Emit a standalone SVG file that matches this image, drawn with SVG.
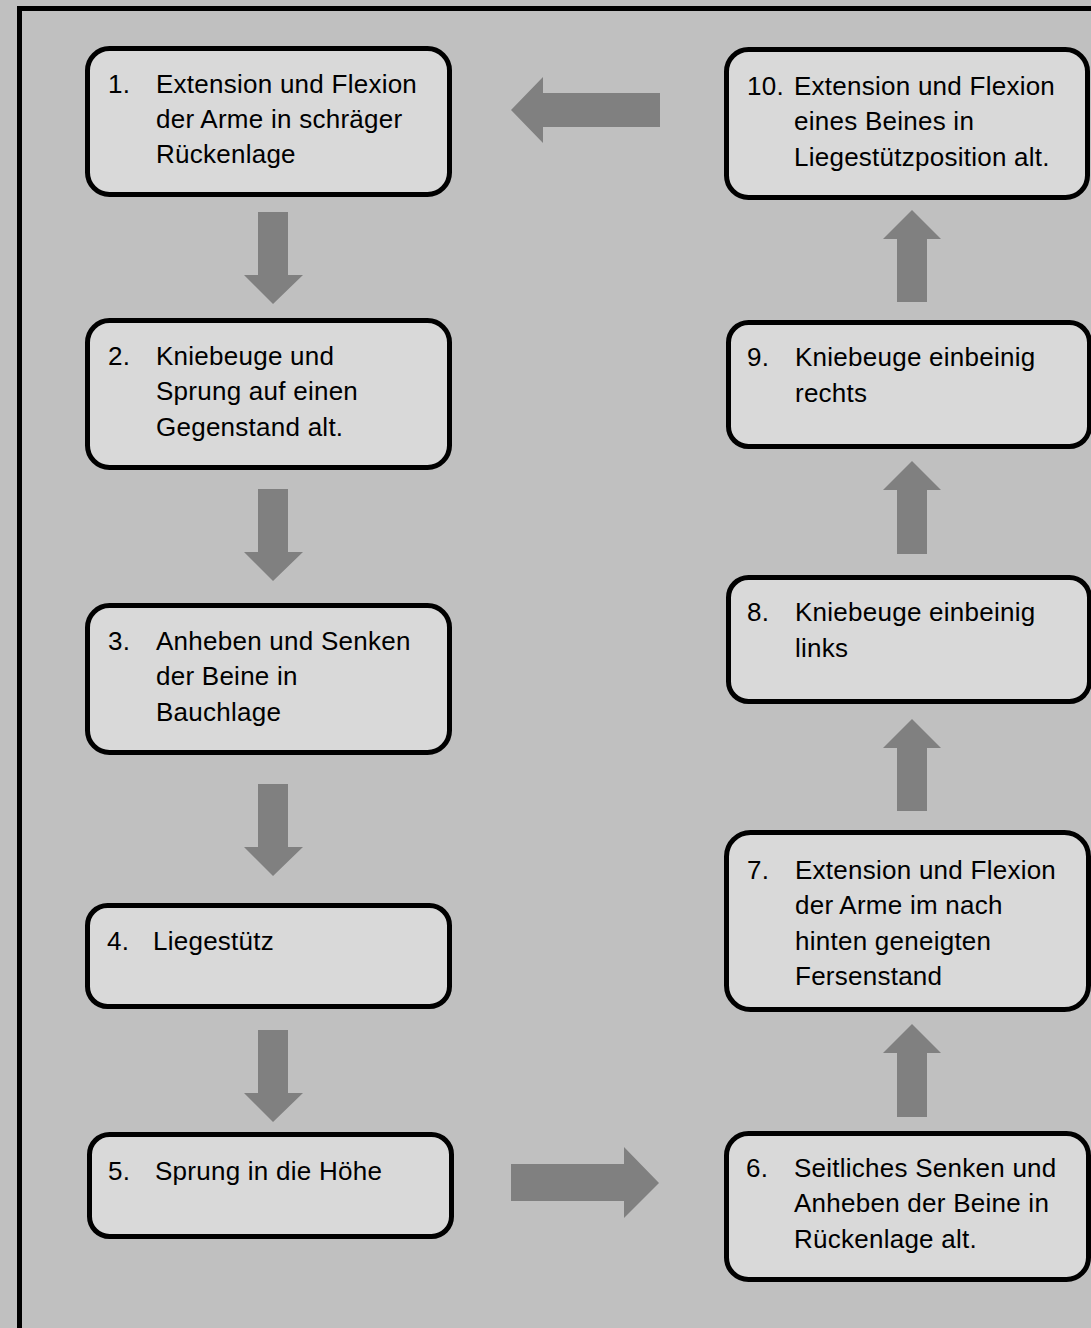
<svg xmlns="http://www.w3.org/2000/svg" width="1091" height="1328" viewBox="0 0 1091 1328">
<style>
.box{fill:#d9d9d9;stroke:#000;stroke-width:5}
.t{font-family:"Liberation Sans",Arial,sans-serif;font-size:26px;letter-spacing:0.25px;fill:#000}
.arr{fill:#808080}
</style>
<rect x="0" y="0" width="1091" height="1328" fill="#c0c0c0"/>
<rect x="19.5" y="8.5" width="1100" height="1340" fill="#c0c0c0" stroke="#000" stroke-width="5"/>
<g id="connectors">
<polygon class="arr" points="660,93 543,93 543,77 511,110 543,143 543,127 660,127"/>
<polygon class="arr" points="258,212 288,212 288,275 303,275 273,304 244,275 258,275"/>
<polygon class="arr" points="258,489 288,489 288,552 303,552 273,581 244,552 258,552"/>
<polygon class="arr" points="258,784 288,784 288,847 303,847 273,876 244,847 258,847"/>
<polygon class="arr" points="258,1030 288,1030 288,1093 303,1093 273,1122 244,1093 258,1093"/>
<polygon class="arr" points="511,1164 624,1164 624,1147 659,1183 624,1218 624,1201 511,1201"/>
<polygon class="arr" points="897,1117 927,1117 927,1053 941,1053 912,1024 883,1053 897,1053"/>
<polygon class="arr" points="897,811 927,811 927,748 941,748 912,719 883,748 897,748"/>
<polygon class="arr" points="897,554 927,554 927,490 941,490 912,461 883,490 897,490"/>
<polygon class="arr" points="897,302 927,302 927,239 941,239 912,210 883,239 897,239"/>
</g>
<g id="n1"><rect class="box" x="87.5" y="48.5" width="362" height="146" rx="22"/>
<text class="t" x="108" y="93">1.</text><text class="t" x="156" y="93">Extension und Flexion</text><text class="t" x="156" y="128">der Arme in schräger</text><text class="t" x="156" y="163">Rückenlage</text></g>
<g id="n2"><rect class="box" x="87.5" y="320.5" width="362" height="147" rx="22"/>
<text class="t" x="108" y="365">2.</text><text class="t" x="156" y="365">Kniebeuge und</text><text class="t" x="156" y="400">Sprung auf einen</text><text class="t" x="156" y="436">Gegenstand alt.</text></g>
<g id="n3"><rect class="box" x="87.5" y="605.5" width="362" height="147" rx="22"/>
<text class="t" x="108" y="650">3.</text><text class="t" x="156" y="650">Anheben und Senken</text><text class="t" x="156" y="685">der Beine in</text><text class="t" x="156" y="721">Bauchlage</text></g>
<g id="n4"><rect class="box" x="87.5" y="905.5" width="362" height="101" rx="20"/>
<text class="t" x="107" y="950">4.</text><text class="t" x="153" y="950">Liegestütz</text></g>
<g id="n5"><rect class="box" x="89.5" y="1134.5" width="362" height="102" rx="20"/>
<text class="t" x="108" y="1180">5.</text><text class="t" x="155" y="1180">Sprung in die Höhe</text></g>
<g id="n6"><rect class="box" x="726.5" y="1133.5" width="362" height="146" rx="22"/>
<text class="t" x="746" y="1177">6.</text><text class="t" x="794" y="1177">Seitliches Senken und</text><text class="t" x="794" y="1212">Anheben der Beine in</text><text class="t" x="794" y="1248">Rückenlage alt.</text></g>
<g id="n7"><rect class="box" x="726.5" y="832.5" width="362" height="177" rx="24"/>
<text class="t" x="747" y="879">7.</text><text class="t" x="795" y="879">Extension und Flexion</text><text class="t" x="795" y="914">der Arme im nach</text><text class="t" x="795" y="950">hinten geneigten</text><text class="t" x="795" y="985">Fersenstand</text></g>
<g id="n8"><rect class="box" x="728.5" y="577.5" width="361" height="124" rx="20"/>
<text class="t" x="747" y="621">8.</text><text class="t" x="795" y="621">Kniebeuge einbeinig</text><text class="t" x="795" y="657">links</text></g>
<g id="n9"><rect class="box" x="728.5" y="322.5" width="361" height="124" rx="20"/>
<text class="t" x="747" y="366">9.</text><text class="t" x="795" y="366">Kniebeuge einbeinig</text><text class="t" x="795" y="402">rechts</text></g>
<g id="n10"><rect class="box" x="726.5" y="49.5" width="361" height="148" rx="22"/>
<text class="t" x="747" y="95">10.</text><text class="t" x="794" y="95">Extension und Flexion</text><text class="t" x="794" y="130">eines Beines in</text><text class="t" x="794" y="166">Liegestützposition alt.</text></g>
</svg>
